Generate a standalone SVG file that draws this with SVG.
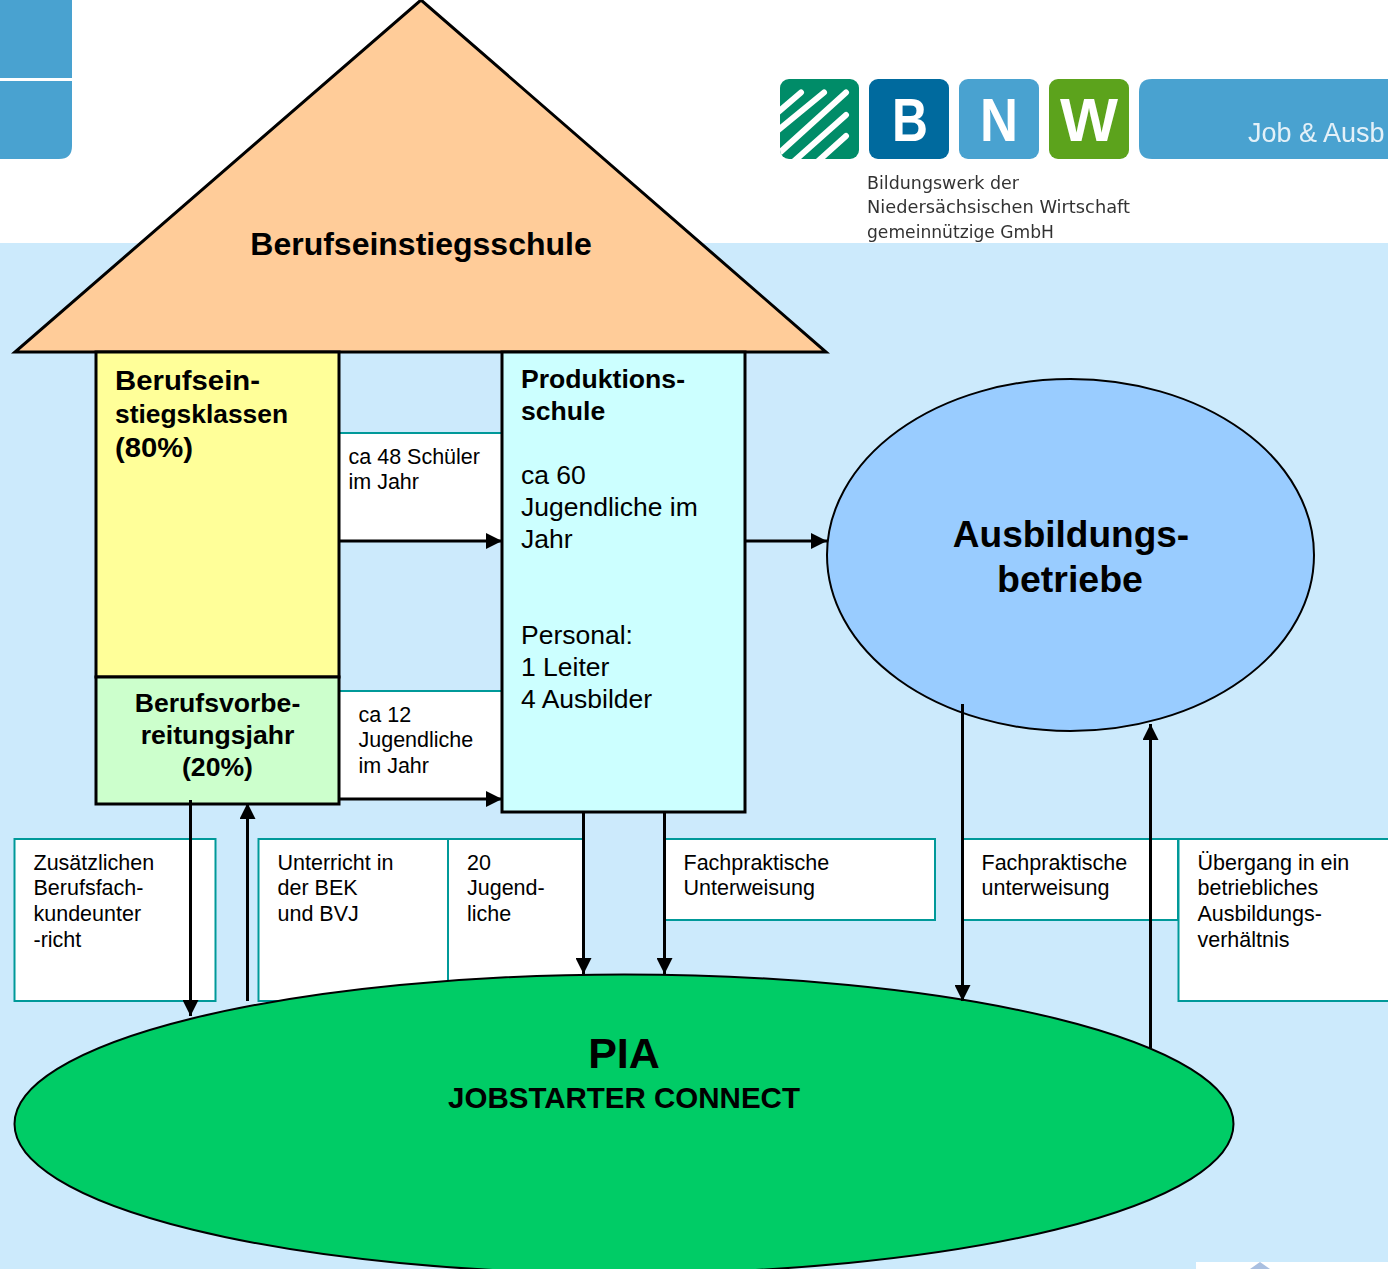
<svg xmlns="http://www.w3.org/2000/svg" width="1388" height="1269" viewBox="0 0 1388 1269">
<style>
text{font-family:"Liberation Sans",Arial,sans-serif;fill:#000}
.s{font-size:21.5px}
.m{font-size:26.5px}
.bm{font-size:26.6px;font-weight:700}
.box{fill:#fff;stroke:#009999;stroke-width:2}
.shape{stroke:#000;stroke-width:3}
.c{fill:none;stroke:#000;stroke-width:3}
.logo{font-size:17.5px;font-family:"DejaVu Sans",sans-serif}
.let{font-size:62px;font-weight:700;text-anchor:middle}
.mid{text-anchor:middle}
</style>
<defs>
<marker id="a" markerUnits="userSpaceOnUse" markerWidth="16" markerHeight="16" refX="16" refY="8" orient="auto"><path d="M0 0L16 8L0 16Z" fill="#000"/></marker>
<clipPath id="st"><rect x="780" y="79" width="79" height="80" rx="9"/></clipPath>
<filter id="soft" x="-2%" y="-5%" width="104%" height="110%"><feGaussianBlur stdDeviation="0.7"/></filter>
</defs>
<rect width="1388" height="1269" fill="#fff"/>
<rect y="243" width="1388" height="1026" fill="#cceafc"/>
<g id="logo-left" filter="url(#soft)">
<path d="M0 0H72V78H0ZM0 81H72V146Q72 159 59 159H0Z" fill="#4aa2d0"/>
</g>
<g id="logo-bnw" filter="url(#soft)">
<rect x="780" y="79" width="79" height="80" rx="9" fill="#008c68"/>
<g clip-path="url(#st)" stroke="#fff" stroke-width="6" stroke-linecap="round" fill="none">
<path d="M776 114L801 92.500M776 132L824 92.500M776 156L846 92.500M792 163L846 115M816 163L846 136"/>
</g>
<rect x="869" y="79" width="80" height="80" rx="9" fill="#006a9e"/>
<rect x="959" y="79" width="80" height="80" rx="9" fill="#4aa2d0"/>
<rect x="1049" y="79" width="80" height="80" rx="9" fill="#5ba31e"/>
<path d="M1388 79H1152Q1139 79 1139 92V146Q1139 159 1152 159H1388Z" fill="#4aa2d0"/>
<text class="let" x="910" y="141" style="fill:#fff" textLength="36" lengthAdjust="spacingAndGlyphs">B</text>
<text class="let" x="999" y="141" style="fill:#fff" textLength="38" lengthAdjust="spacingAndGlyphs">N</text>
<text class="let" x="1089" y="141" style="fill:#fff" textLength="58" lengthAdjust="spacingAndGlyphs">W</text>
<text x="1248" y="142" font-size="27" style="fill:#e4f1f8">Job &amp; Ausb</text>
<text class="logo" x="867" y="189" style="fill:#333" textLength="152" lengthAdjust="spacingAndGlyphs">Bildungswerk der</text>
<text class="logo" x="867" y="213" style="fill:#333" textLength="263" lengthAdjust="spacingAndGlyphs">Niedersächsischen Wirtschaft</text>
<text class="logo" x="867" y="238" style="fill:#333" textLength="187" lengthAdjust="spacingAndGlyphs">gemeinnützige GmbH</text>
</g>
<rect x="1196" y="1262" width="192" height="7" fill="#fff"/>
<path d="M1250 1269L1260 1262L1270 1269Z" fill="#a9bfe0"/>
<g id="box-schueler"><rect class="box" x="339" y="433" width="163" height="108"/><text class="s" x="348.500" y="464">ca 48 Schüler</text><text class="s" x="348.500" y="489">im Jahr</text></g>
<g id="box-jugendliche12"><rect class="box" x="339" y="691" width="163" height="108"/><text class="s" x="358.500" y="722">ca 12</text><text class="s" x="358.500" y="747">Jugendliche</text><text class="s" x="358.500" y="773">im Jahr</text></g>
<g id="box-zusatz"><rect class="box" x="14.500" y="839" width="201" height="162"/><text class="s" x="33.500" y="870">Zusätzlichen</text><text class="s" x="33.500" y="895">Berufsfach-</text><text class="s" x="33.500" y="921">kundeunter</text><text class="s" x="33.500" y="947">-richt</text></g>
<g id="box-unterricht"><rect class="box" x="258.500" y="839" width="190" height="162"/><text class="s" x="277.500" y="870">Unterricht in</text><text class="s" x="277.500" y="895">der BEK</text><text class="s" x="277.500" y="921">und BVJ</text></g>
<g id="box-20"><rect class="box" x="448" y="839" width="135" height="162"/><text class="s" x="467" y="870">20</text><text class="s" x="467" y="895">Jugend-</text><text class="s" x="467" y="921">liche</text></g>
<g id="box-fach1"><rect class="box" x="664" y="839" width="271" height="81"/><text class="s" x="683.500" y="870">Fachpraktische</text><text class="s" x="683.500" y="895">Unterweisung</text></g>
<g id="box-fach2"><rect class="box" x="962" y="839" width="216" height="81"/><text class="s" x="981.500" y="870">Fachpraktische</text><text class="s" x="981.500" y="895">unterweisung</text></g>
<g id="box-uebergang"><rect class="box" x="1178.500" y="839" width="220" height="162"/><text class="s" x="1197.500" y="870">Übergang in ein</text><text class="s" x="1197.500" y="895">betriebliches</text><text class="s" x="1197.500" y="921">Ausbildungs-</text><text class="s" x="1197.500" y="947">verhältnis</text></g>
<g id="dach"><path class="shape" d="M421 0L826 352H15Z" fill="#ffcc99"/><text class="mid" x="421" y="255" font-size="32" font-weight="700">Berufseinstiegsschule</text></g>
<g id="berufseinstiegsklassen"><rect class="shape" x="96" y="352" width="243" height="325" fill="#ffff99"/><text class="bm" x="115" y="389.500" style="font-size:28.500px" textLength="145" lengthAdjust="spacingAndGlyphs">Berufsein-</text><text class="bm" x="115" y="423" textLength="173" lengthAdjust="spacingAndGlyphs">stiegsklassen</text><text class="bm" x="115" y="457" style="font-size:28.500px" textLength="78" lengthAdjust="spacingAndGlyphs">(80%)</text></g>
<g id="berufsvorbereitungsjahr"><rect class="shape" x="96" y="677" width="243" height="127" fill="#ccffcc"/><text class="bm mid" x="217.500" y="712">Berufsvorbe-</text><text class="bm mid" x="217.500" y="744">reitungsjahr</text><text class="bm mid" x="217.500" y="776">(20%)</text></g>
<g id="produktionsschule"><rect class="shape" x="502" y="352" width="243" height="460" fill="#ccffff"/><text class="bm" x="521" y="388">Produktions-</text><text class="bm" x="521" y="420">schule</text><text class="m" x="521" y="484">ca 60</text><text class="m" x="521" y="516">Jugendliche im</text><text class="m" x="521" y="548">Jahr</text><text class="m" x="521" y="644">Personal:</text><text class="m" x="521" y="676">1 Leiter</text><text class="m" x="521" y="708">4 Ausbilder</text></g>
<g id="ausbildungsbetriebe"><ellipse cx="1070.500" cy="555" rx="243.500" ry="176" fill="#99ccff" stroke="#000" stroke-width="2"/><text class="mid" x="1071" y="547" font-size="37" font-weight="700">Ausbildungs-</text><text class="mid" x="1070" y="592" font-size="37.500" font-weight="700">betriebe</text></g>
<g id="pia"><ellipse cx="624" cy="1124" rx="609.500" ry="149.500" fill="#00cc66" stroke="#000" stroke-width="2"/><text class="mid" x="624" y="1068" font-size="43" font-weight="700">PIA</text><text class="mid" x="624" y="1108" font-size="29.500" font-weight="700">JOBSTARTER CONNECT</text></g>
<g id="connectors">
<path class="c" marker-end="url(#a)" d="M339 541H502"/>
<path class="c" marker-end="url(#a)" d="M339 799H502"/>
<path class="c" marker-end="url(#a)" d="M745 541H827"/>
<path class="c" marker-end="url(#a)" d="M190.500 800V1016"/>
<path class="c" marker-end="url(#a)" d="M247.500 1001V803"/>
<path class="c" marker-end="url(#a)" d="M583.500 812V974"/>
<path class="c" marker-end="url(#a)" d="M664.500 812V974"/>
<path class="c" marker-end="url(#a)" d="M962.500 704V1001"/>
<path class="c" marker-end="url(#a)" d="M1150.500 1048V724"/>
</g>
</svg>
